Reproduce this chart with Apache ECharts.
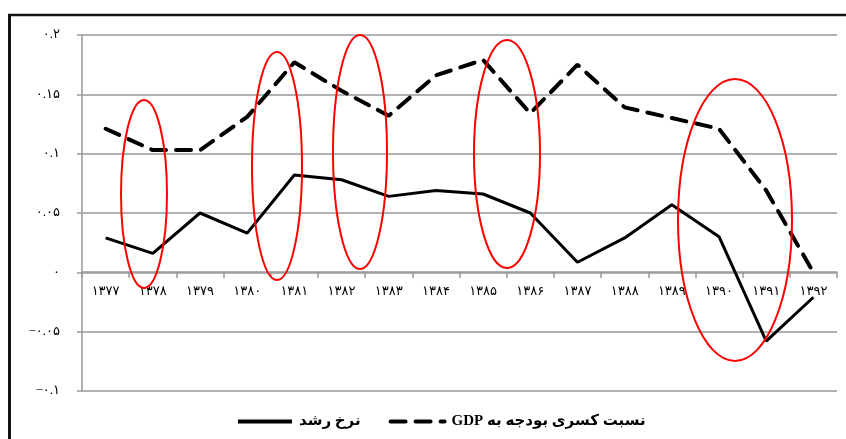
<!DOCTYPE html>
<html>
<head>
<meta charset="utf-8">
<style>
  html, body { margin: 0; padding: 0; background: #fff; }
  #main { width: 846px; height: 439px; }
</style>
<script src="https://cdn.jsdelivr.net/npm/echarts@6/dist/echarts.min.js"></script>
</head>
<body>
<div id="main"></div>
<script>
var years = ['1377','1378','1379','1380','1381','1382','1383','1384',
             '1385','1386','1387','1388','1389','1390','1391','1392'];
// نرخ رشد
var growth = [0.029, 0.016, 0.050, 0.033, 0.082, 0.078, 0.064, 0.069,
              0.066, 0.050, 0.0085, 0.029, 0.057, 0.030, -0.058, -0.021];
// نسبت کسری بودجه به GDP
var deficit = [0.121, 0.103, 0.103, 0.131, 0.177, 0.153, 0.132, 0.166,
               0.179, 0.134, 0.175, 0.139, 0.130, 0.121, 0.069, 0.000];
var growthName = 'نرخ رشد';
var deficitName = '\u202Bنسبت کسری بودجه به GDP\u202C';

var faDigits = '۰۱۲۳۴۵۶۷۸۹';
function toFa(s) {
  return String(s).replace(/[0-9]/g, function (d) { return faDigits[+d]; });
}

var chart = echarts.init(document.getElementById('main'));

var font = "'Liberation Serif', 'DejaVu Sans', serif";

chart.setOption({
  animation: false,
  backgroundColor: '#fff',
  grid: { left: 82, right: 9, top: 35, bottom: 48 },
  legend: {
    left: 231,
    top: 409,
    itemWidth: 54,
    itemHeight: 14,
    itemGap: 28,
    data: [growthName, deficitName],
    itemStyle: { opacity: 0 },
    lineStyle: { width: 4 },
    textStyle: { color: '#000', fontSize: 15, fontWeight: 'bold', fontFamily: font, padding: [0, 0, 0, 2] }
  },
  xAxis: {
    type: 'category',
    data: years,
    boundaryGap: true,
    offset: -119,
    axisLine: { onZero: false, lineStyle: { color: '#999', width: 1.5 } },
    axisTick: { show: true, length: 6, inside: false, lineStyle: { color: '#999', width: 1.5 } },
    axisLabel: {
      margin: 13,
      color: '#000',
      fontSize: 13,
      fontFamily: font,
      formatter: function (v) { return toFa(v); }
    },
    splitLine: { show: false }
  },
  yAxis: {
    type: 'value',
    min: -0.1,
    max: 0.2,
    interval: 0.05,
    axisLine: { show: true, lineStyle: { color: '#999', width: 1.5 } },
    axisTick: { show: true, length: 5, lineStyle: { color: '#999', width: 1.5 } },
    axisLabel: {
      margin: 22,
      color: '#000',
      fontSize: 13,
      fontFamily: font,
      formatter: function (v) {
        var r = Math.round(v * 100) / 100;
        var s = Math.abs(r).toString();
        return (r < 0 ? '−' : '') + toFa(s);
      }
    },
    splitLine: { show: true, lineStyle: { color: '#999', width: 1.5 } }
  },
  series: [
    {
      name: growthName,
      type: 'line',
      data: growth,
      symbol: 'none',
      color: '#000',
      lineStyle: { color: '#000', width: 3 }
    },
    {
      name: deficitName,
      type: 'line',
      data: deficit,
      symbol: 'none',
      color: '#000',
      lineStyle: { color: '#000', width: 4, type: [15, 10], cap: 'round' }
    }
  ],
  graphic: [
    { type: 'line', shape: { x1: 8, y1: 15, x2: 846, y2: 15 }, style: { stroke: '#111', lineWidth: 2.5 } },
    { type: 'line', shape: { x1: 9.5, y1: 14, x2: 9.5, y2: 439 }, style: { stroke: '#111', lineWidth: 3 } },
    { type: 'ellipse', z: 100, shape: { cx: 144, cy: 194, rx: 23, ry: 94 }, style: { fill: 'none', stroke: '#f00', lineWidth: 2 } },
    { type: 'ellipse', z: 100, shape: { cx: 277, cy: 166, rx: 25, ry: 114 }, style: { fill: 'none', stroke: '#f00', lineWidth: 2 } },
    { type: 'ellipse', z: 100, shape: { cx: 360, cy: 152, rx: 27, ry: 117 }, style: { fill: 'none', stroke: '#f00', lineWidth: 2 } },
    { type: 'ellipse', z: 100, shape: { cx: 507, cy: 154, rx: 33, ry: 114 }, style: { fill: 'none', stroke: '#f00', lineWidth: 2 } },
    { type: 'ellipse', z: 100, shape: { cx: 735, cy: 220, rx: 57, ry: 141 }, style: { fill: 'none', stroke: '#f00', lineWidth: 2 } }
  ]
});
</script>
</body>
</html>
